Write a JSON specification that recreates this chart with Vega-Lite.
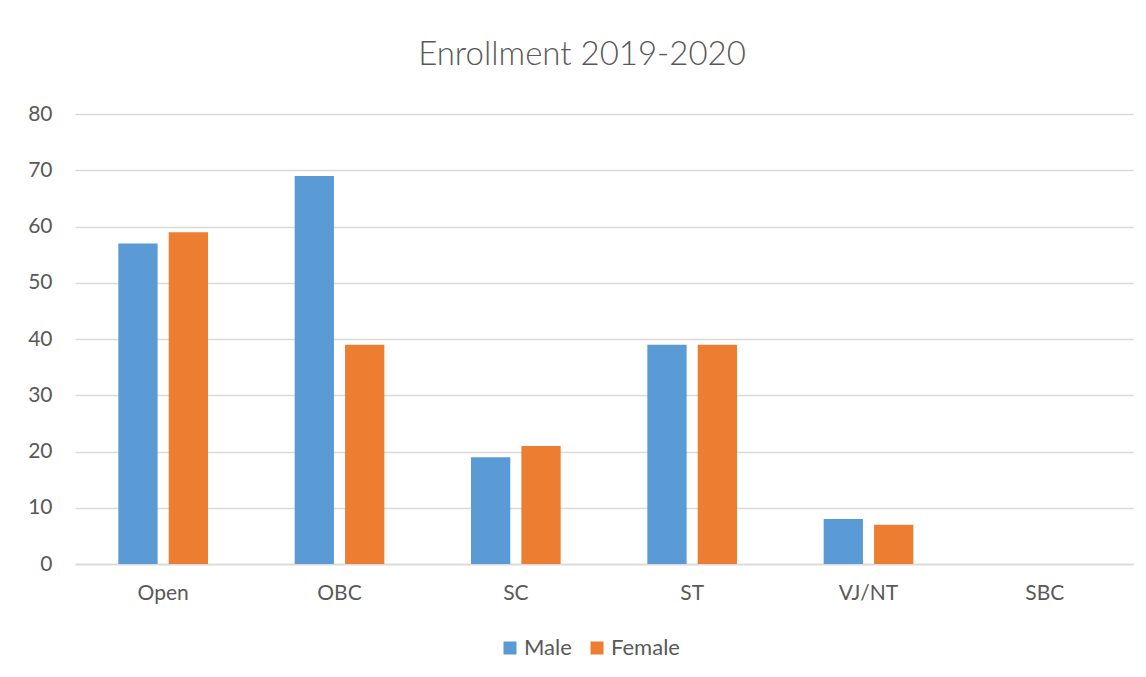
{
  "$schema": "https://vega.github.io/schema/vega-lite/v6.json",
  "autosize": "none",
  "width": 1058,
  "height": 450,
  "padding": {"left": 75, "top": 114, "right": 13, "bottom": 113},
  "background": "white",
  "title": {
    "text": "Enrollment 2019-2020",
    "font": "Lato",
    "fontSize": 33,
    "fontWeight": 300,
    "color": "#595959",
    "anchor": "middle",
    "frame": "group",
    "dx": -22,
    "baseline": "alphabetic",
    "offset": 5
  },
  "data": {
    "values": [
      {"category": "Open", "gender": "Male", "count": 57},
      {"category": "Open", "gender": "Female", "count": 59},
      {"category": "OBC", "gender": "Male", "count": 69},
      {"category": "OBC", "gender": "Female", "count": 39},
      {"category": "SC", "gender": "Male", "count": 19},
      {"category": "SC", "gender": "Female", "count": 21},
      {"category": "ST", "gender": "Male", "count": 39},
      {"category": "ST", "gender": "Female", "count": 39},
      {"category": "VJ/NT", "gender": "Male", "count": 8},
      {"category": "VJ/NT", "gender": "Female", "count": 7},
      {"category": "SBC", "gender": "Male", "count": 0},
      {"category": "SBC", "gender": "Female", "count": 0}
    ]
  },
  "mark": {"type": "bar"},
  "encoding": {
    "x": {
      "field": "category",
      "type": "nominal",
      "sort": ["Open", "OBC", "SC", "ST", "VJ/NT", "SBC"],
      "scale": {"paddingInner": 0, "paddingOuter": 0},
      "axis": {
        "title": null,
        "labelAngle": 0,
        "ticks": false,
        "domain": true,
        "domainColor": "#d9d9d9",
        "domainWidth": 1.5,
        "labelPadding": 18,
        "labelFont": "Lato",
        "labelFontSize": 21,
        "labelColor": "#595959",
        "grid": false
      }
    },
    "xOffset": {
      "field": "gender",
      "type": "nominal",
      "sort": ["Male", "Female"],
      "scale": {"paddingInner": 0.22, "paddingOuter": 0.86}
    },
    "y": {
      "field": "count",
      "type": "quantitative",
      "scale": {"domain": [0, 80], "nice": false},
      "axis": {
        "title": null,
        "values": [0, 10, 20, 30, 40, 50, 60, 70, 80],
        "domain": false,
        "ticks": false,
        "grid": true,
        "gridColor": "#d9d9d9",
        "gridWidth": 1.3,
        "labelPadding": 23,
        "labelFont": "Lato",
        "labelFontSize": 21,
        "labelColor": "#595959"
      }
    },
    "color": {
      "field": "gender",
      "type": "nominal",
      "sort": ["Male", "Female"],
      "scale": {"domain": ["Male", "Female"], "range": ["#5B9BD5", "#ED7D31"]},
      "legend": {
        "title": null,
        "orient": "none",
        "direction": "horizontal",
        "legendX": 424,
        "legendY": 523,
        "symbolType": "square",
        "symbolSize": 169,
        "symbolStrokeWidth": 0,
        "labelFont": "Lato",
        "labelFontSize": 22,
        "labelColor": "#595959",
        "labelOffset": 3,
        "columnPadding": 14
      }
    }
  },
  "config": {
    "view": {"stroke": null}
  }
}
